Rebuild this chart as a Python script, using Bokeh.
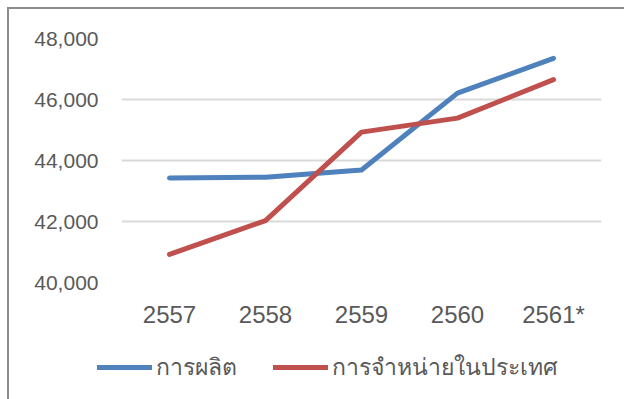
from bokeh.plotting import figure
from bokeh.layouts import column
from bokeh.models import Range1d, FactorRange, NumeralTickFormatter, Legend, LegendItem, FixedTicker
from bokeh.embed import file_html
from bokeh.resources import INLINE

years = ["2557", "2558", "2559", "2560", "2561*"]
production = [43430, 43450, 43690, 46210, 47350]
domestic_sales = [40920, 42030, 44930, 45390, 46650]
series_names = ["การผลิต", "การจำหน่ายในประเทศ"]
y_ticks = [40000, 42000, 44000, 46000, 48000]
colors = ["#4f81bd", "#c0504d"]

p = figure(width=615, height=330, x_range=FactorRange(*years, range_padding=0),
           y_range=Range1d(40000, 48000), output_backend="svg", toolbar_location=None,
           min_border_left=112, min_border_right=23, min_border_top=29, min_border_bottom=57)
p.outline_line_color = None
p.background_fill_color = "white"
p.border_fill_color = "white"

p.xgrid.grid_line_color = None
p.ygrid.grid_line_color = "#d9d9d9"
p.ygrid.grid_line_width = 2
p.yaxis.ticker = FixedTicker(ticks=y_ticks)
p.yaxis.formatter = NumeralTickFormatter(format="0,0")
for ax in (p.xaxis[0], p.yaxis[0]):
    ax.axis_line_color = None
    ax.major_tick_line_color = None
    ax.minor_tick_line_color = None
    ax.major_tick_in = 0
    ax.major_tick_out = 0
    ax.major_label_text_color = "#595959"
    ax.major_label_text_font = "Liberation Sans"
p.yaxis.major_label_standoff = 23
p.yaxis.major_label_text_font_size = "21px"
p.xaxis.major_label_text_font_size = "24px"
p.xaxis.major_label_standoff = 18

p.line(years, production, line_color=colors[0], line_width=5, line_cap="round", line_join="round")
p.line(years, domestic_sales, line_color=colors[1], line_width=5, line_cap="round", line_join="round")

# legend strip below the chart (series drawn out of view; only their legend keys show)
lg = figure(width=615, height=60, x_range=FactorRange(*years, range_padding=0),
            y_range=Range1d(0, 1), output_backend="svg", toolbar_location=None,
            min_border_left=0, min_border_right=0, min_border_top=0, min_border_bottom=0)
lg.axis.visible = False
lg.grid.visible = False
lg.outline_line_color = None
lg.border_fill_color = "white"
for fig in (p, lg):
    if "frame_align" in fig.properties():
        fig.frame_align = False
lr1 = lg.line(years, production, line_color=colors[0], line_width=5, line_cap="round")
lr2 = lg.line(years, domestic_sales, line_color=colors[1], line_width=5, line_cap="round")
legend = Legend(items=[LegendItem(label=series_names[0], renderers=[lr1]),
                       LegendItem(label=series_names[1], renderers=[lr2])],
                orientation="horizontal", location=(88, 14), padding=0, margin=0,
                spacing=36, glyph_width=55, glyph_height=24, label_height=24, label_standoff=4,
                border_line_color=None, background_fill_alpha=0,
                label_text_font_size="23px", label_text_color="#595959",
                label_text_font="Noto Sans")
lg.add_layout(legend, "center")

layout = column(p, lg, spacing=0)
layout.styles = {"margin-left": "7px", "margin-top": "7px",
                 "border-left": "2px solid #8c8c8c", "border-top": "2px solid #8c8c8c"}

open("out.html", "w").write(file_html(layout, INLINE))
